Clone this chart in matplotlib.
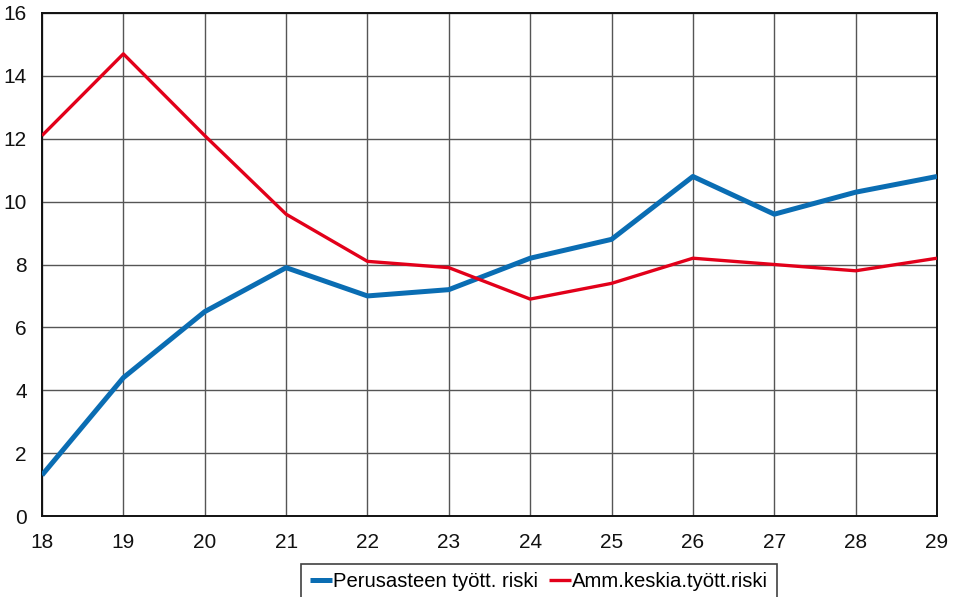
import matplotlib
matplotlib.use("Agg")
import matplotlib.pyplot as plt

ages = [18, 19, 20, 21, 22, 23, 24, 25, 26, 27, 28, 29]
perus = [1.3, 4.4, 6.5, 7.9, 7.0, 7.2, 8.2, 8.8, 10.8, 9.6, 10.3, 10.8]
amm = [12.1, 14.7, 12.1, 9.6, 8.1, 7.9, 6.9, 7.4, 8.2, 8.0, 7.8, 8.2]
labels = ["Perusasteen tyött. riski", "Amm.keskia.tyött.riski"]

plt.rcParams['font.family'] = ['Liberation Sans', 'DejaVu Sans']

fig = plt.figure(figsize=(9.56, 5.97), dpi=100)
ax = fig.add_axes([42/956, (597-516)/597, (937-42)/956, (516-13)/597])

ax.plot(ages, perus, color='#0a6db3', lw=3.6, label=labels[0], solid_capstyle='butt', zorder=3)
ax.plot(ages, amm, color='#e2001a', lw=2.4, label=labels[1], solid_capstyle='butt', zorder=3)

ax.set_xlim(18, 29)
ax.set_ylim(0, 16)
ax.set_xticks(ages)
ax.set_yticks(range(0, 17, 2))
ax.grid(True, color='#555555', lw=1.0)
ax.set_axisbelow(True)
for s in ax.spines.values():
    s.set_color('#111111')
    s.set_linewidth(1.4)
ax.tick_params(length=0, labelsize=15, colors='#111111', pad=12)
ax.tick_params(axis='y', pad=11)

leg = fig.legend(loc='lower center', bbox_to_anchor=(539/956, -0.004), ncol=2,
                 frameon=True, fancybox=False, edgecolor='#111111', fontsize=14.6,
                 handlelength=1.1, handletextpad=0.05, columnspacing=0.55,
                 borderpad=0.4, borderaxespad=0)
leg.get_frame().set_linewidth(1.2)

fig.savefig("out.png", dpi=100)
